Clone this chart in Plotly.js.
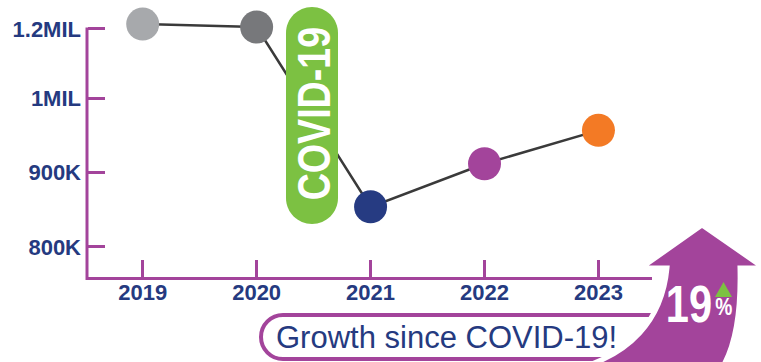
<!DOCTYPE html>
<html>
<head>
<meta charset="utf-8">
<script src="https://cdn.plot.ly/plotly-3.0.1.min.js"></script>
<style>
  html, body { margin: 0; padding: 0; background: #ffffff; }
  #chart { width: 761px; height: 362px; }
</style>
</head>
<body>
<div id="chart"></div>
<script>
// ---- data ----
const years = ['2019', '2020', '2021', '2022', '2023'];
const riders = [1100000, 1096000, 854000, 912000, 957000];
const markerColors = ['#a7a9ac', '#77787b', '#263b82', '#a3449b', '#f37a25'];
const yTickVals = [800000, 900000, 1000000, 1093500];
const yTickText = ['800K', '900K', '1MIL', '1.2MIL'];
const covidLabel = 'COVID-19';
const bannerText = 'Growth since COVID-19!';
const growthNumber = '19';
const growthUnit = '%';

// ---- layout geometry (pixels) ----
const W = 761, H = 362;
const M = { l: 88, r: 109, t: 5, b: 85 };
const PW = W - M.l - M.r, PH = H - M.t - M.b;
const px = x => (x - M.l) / PW;
const py = y => (H - M.b - y) / PH;
const P = (x, y) => px(x).toFixed(5) + ',' + py(y).toFixed(5);

const PURPLE = '#a3449b';
const NAVY = '#253a80';
const GREEN = '#7cc142';
const SANS = '"Liberation Sans", Arial, sans-serif';

function roundRect(x0, y0, x1, y1, r) {
  const k = 0.5523 * r;
  return 'M' + P(x0 + r, y0) +
    ' L' + P(x1 - r, y0) +
    ' C' + P(x1 - r + k, y0) + ' ' + P(x1, y0 + r - k) + ' ' + P(x1, y0 + r) +
    ' L' + P(x1, y1 - r) +
    ' C' + P(x1, y1 - r + k) + ' ' + P(x1 - r + k, y1) + ' ' + P(x1 - r, y1) +
    ' L' + P(x0 + r, y1) +
    ' C' + P(x0 + r - k, y1) + ' ' + P(x0, y1 - r + k) + ' ' + P(x0, y1 - r) +
    ' L' + P(x0, y0 + r) +
    ' C' + P(x0, y0 + r - k) + ' ' + P(x0 + r - k, y0) + ' ' + P(x0 + r, y0) + ' Z';
}

const arrowPath = 'M' + P(702, 225) +
  ' L' + P(764, 268) + ' L' + P(740, 268) +
  ' C' + P(741, 310) + ' ' + P(736, 345) + ' ' + P(722, 368) +
  ' L' + P(580, 368) +
  ' C' + P(628, 354) + ' ' + P(662, 322) + ' ' + P(667, 268) +
  ' L' + P(641, 268) + ' Z';

const triPath = 'M' + P(715, 297) + ' L' + P(732, 297) + ' L' + P(723.5, 282) + ' Z';

const trace = {
  type: 'scatter',
  mode: 'lines+markers',
  x: years,
  y: riders,
  line: { color: '#3a3a3a', width: 2.5 },
  marker: { color: markerColors, size: 33, line: { width: 0 } },
  cliponaxis: false,
  hoverinfo: 'skip'
};

const yBottom = 759600, yTop = 1125700;

const layout = {
  width: W, height: H,
  margin: M,
  paper_bgcolor: '#ffffff',
  plot_bgcolor: '#ffffff',
  showlegend: false,
  font: { family: SANS, color: NAVY },
  xaxis: {
    type: 'category',
    range: [-0.48, 4.47],
    showgrid: false, zeroline: false,
    showline: true, linecolor: PURPLE, linewidth: 3,
    ticks: 'inside', ticklen: 17, tickwidth: 3, tickcolor: PURPLE,
    tickfont: { family: SANS, size: 22, color: NAVY, weight: 'bold' },
    ticklabelstandoff: -6,
    fixedrange: true
  },
  yaxis: {
    range: [yBottom, yTop],
    tickvals: yTickVals, ticktext: yTickText,
    showgrid: false, zeroline: false,
    showline: false,
    ticks: 'inside', ticklen: 17, tickwidth: 3, tickcolor: PURPLE,
    tickfont: { family: SANS, size: 22, color: NAVY, weight: 'bold' },
    ticklabelstandoff: 6,
    fixedrange: true
  },
  shapes: [
    { type: 'line', xref: 'paper', yref: 'paper', layer: 'below',
      x0: px(87), x1: px(87), y0: py(280), y1: py(27.5),
      line: { color: PURPLE, width: 3 } },
    { type: 'path', xref: 'paper', yref: 'paper', layer: 'above',
      path: roundRect(286, 7, 338, 224, 26),
      fillcolor: GREEN, line: { width: 0 } },
    { type: 'path', xref: 'paper', yref: 'paper', layer: 'above',
      path: roundRect(261, 315, 720, 359, 22),
      fillcolor: '#ffffff', line: { color: PURPLE, width: 4 } },
    { type: 'path', xref: 'paper', yref: 'paper', layer: 'above',
      path: arrowPath,
      fillcolor: PURPLE, line: { color: '#ffffff', width: 5 } },
    { type: 'path', xref: 'paper', yref: 'paper', layer: 'above',
      path: triPath,
      fillcolor: GREEN, line: { width: 0 } }
  ],
  annotations: [
    { xref: 'paper', yref: 'paper', x: px(313), y: py(114),
      xanchor: 'center', yanchor: 'middle', showarrow: false,
      text: covidLabel, textangle: -90,
      font: { family: SANS, size: 47, color: '#ffffff', weight: 'bold' } },
    { xref: 'paper', yref: 'paper', x: px(274), y: py(337),
      xanchor: 'left', yanchor: 'middle', showarrow: false,
      text: bannerText,
      font: { family: SANS, size: 31, color: NAVY } },
    { xref: 'paper', yref: 'paper', x: px(689), y: py(304),
      xanchor: 'center', yanchor: 'middle', showarrow: false,
      text: growthNumber,
      font: { family: SANS, size: 52, color: '#ffffff', weight: 'bold' } },
    { xref: 'paper', yref: 'paper', x: px(723), y: py(306),
      xanchor: 'center', yanchor: 'middle', showarrow: false,
      text: growthUnit,
      font: { family: SANS, size: 24, color: '#ffffff', weight: 'bold' } }
  ]
};

const gd = document.getElementById('chart');
Plotly.newPlot(gd, [trace], layout, { displayModeBar: false, staticPlot: true }).then(function () {
  [0, 2, 3].forEach(function (i) {
    const t = gd.querySelector('.annotation[data-index="' + i + '"] .annotation-text');
    if (t) {
      t.style.transformBox = 'fill-box';
      t.style.transformOrigin = 'center';
      t.style.transform = 'scaleX(0.8)';
    }
  });
});
</script>
</body>
</html>
